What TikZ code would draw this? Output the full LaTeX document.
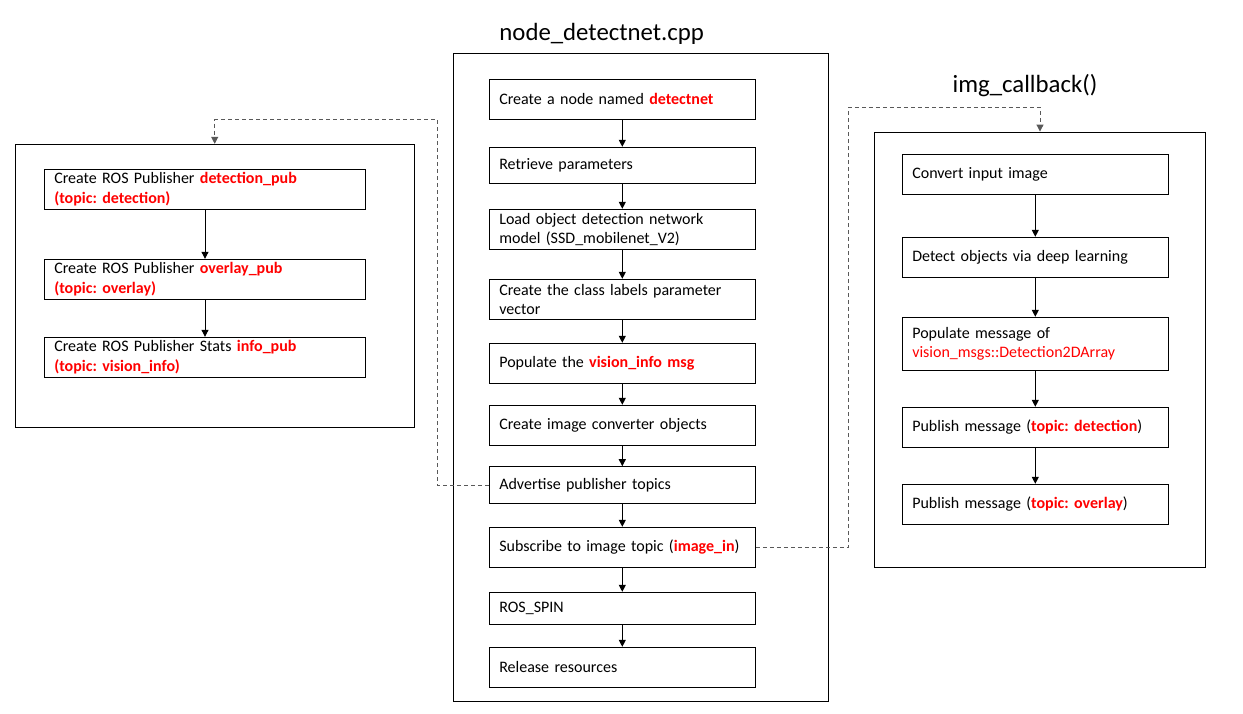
\documentclass[tikz,border=0pt]{standalone}
\usepackage{fontspec}
\setmainfont{Carlito}
\usetikzlibrary{arrows.meta}
\definecolor{hired}{RGB}{255,0,0}
\definecolor{dashgray}{RGB}{89,89,89}
\newcommand{\redb}[1]{\textcolor{hired}{\textbf{#1}}}
\newcommand{\redt}[1]{\textcolor{hired}{#1}}
\newcommand{\bodyfont}{\fontsize{16pt}{19.5pt}\selectfont\frenchspacing}
\newcommand{\titlefont}{\fontsize{24.8pt}{28pt}\selectfont}

\begin{document}
\begin{tikzpicture}[x=1pt, y=-1pt,
  frame/.style={draw, line width=1pt, inner sep=0pt},
  stepbox/.style={draw, line width=1pt, inner xsep=10pt, inner ysep=0pt, align=left, font=\bodyfont},
  flow/.style={-{Triangle[length=7pt,width=7pt]}, line width=1pt},
  dashlink/.style={-{Triangle[length=7pt,width=7pt]}, line width=1pt, dashgray, dash pattern=on 4pt off 3pt}]
  \useasboundingbox (0,0) rectangle (1243,713);

  % Outer frames and titles
  \node[frame, minimum width=398.7pt, minimum height=282.7pt] (lbox) at (214.7,285.7) {};
  \node[frame, minimum width=375.4pt, minimum height=648pt] (mbox) at (641,377.3) {};
  \node[frame, minimum width=331.4pt, minimum height=435.3pt] (rbox) at (1040,349.7) {};
  \node[anchor=base, font=\titlefont, inner sep=0pt] (mtitle) at (601.7,40) {node\_detectnet.cpp};
  \node[anchor=base, font=\titlefont, inner sep=0pt] (rtitle) at (1025,92) {img\_callback()};

  % Main program steps
  \node[stepbox, text width=246pt, minimum height=40pt] (m1) at (622.3,99.3) {Create a node named \redb{detectnet}};
  \node[stepbox, text width=246pt, minimum height=36pt] (m2) at (622.3,165.3) {Retrieve parameters};
  \node[stepbox, text width=246pt, minimum height=40pt] (m3) at (622.3,229.3) {Load object detection network\\model (SSD\_mobilenet\_V2)};
  \node[stepbox, text width=246pt, minimum height=40pt] (m4) at (622.3,299.3) {Create the class labels parameter\\vector};
  \node[stepbox, text width=246pt, minimum height=40pt] (m5) at (622.3,363.3) {Populate the \redb{vision\_info msg}};
  \node[stepbox, text width=246pt, minimum height=40pt] (m6) at (622.3,425.3) {Create image converter objects};
  \node[stepbox, text width=246pt, minimum height=36.6pt] (m7) at (622.3,485) {Advertise publisher topics};
  \node[stepbox, text width=246pt, minimum height=40pt] (m8) at (622.3,547.3) {Subscribe to image topic (\redb{image\_in})};
  \node[stepbox, text width=246pt, minimum height=32pt] (m9) at (622.3,608.3) {ROS\_SPIN};
  \node[stepbox, text width=246pt, minimum height=40pt] (m10) at (622.3,667.3) {Release resources};

  % Publishers
  \node[stepbox, text width=301.4pt, minimum height=40pt] (l1) at (205,189.3) {Create ROS Publisher \redb{detection\_pub}\\\redb{(topic: detection)}};
  \node[stepbox, text width=301.4pt, minimum height=40pt] (l2) at (205,279.3) {Create ROS Publisher \redb{overlay\_pub}\\\redb{(topic: overlay)}};
  \node[stepbox, text width=301.4pt, minimum height=40pt] (l3) at (205,357.3) {Create ROS Publisher Stats \redb{info\_pub}\\\redb{(topic: vision\_info)}};

  % Image callback
  \node[stepbox, text width=246pt, minimum height=40pt] (r1) at (1035.3,174.3) {Convert input image};
  \node[stepbox, text width=246pt, minimum height=40pt] (r2) at (1035.3,257.3) {Detect objects via deep learning};
  \node[stepbox, text width=246pt, minimum height=53pt] (r3) at (1035.3,343.8) {Populate message of\\\redt{vision\_msgs::Detection2DArray}};
  \node[stepbox, text width=246pt, minimum height=40pt] (r4) at (1035.3,427.3) {Publish message (\redb{topic: detection})};
  \node[stepbox, text width=246pt, minimum height=40pt] (r5) at (1035.3,504.3) {Publish message (\redb{topic: overlay})};

  % Flow arrows
  \foreach \a/\b in {m1/m2, m2/m3, m3/m4, m4/m5, m5/m6, m6/m7, m7/m8, m8/m9, m9/m10, l1/l2, l2/l3, r1/r2, r2/r3, r3/r4, r4/r5}
    \draw[flow] (\a) -- (\b);

  % Dashed links to the other blocks
  \coordinate (lturn) at (437,119.3);
  \coordinate (rturn) at (848.5,107.3);
  \draw[dashlink] (m7.west) -| (lturn) -| (lbox.north);
  \draw[dashlink] (m8.east) -| (rturn) -| (rbox.north);
\end{tikzpicture}
\end{document}
